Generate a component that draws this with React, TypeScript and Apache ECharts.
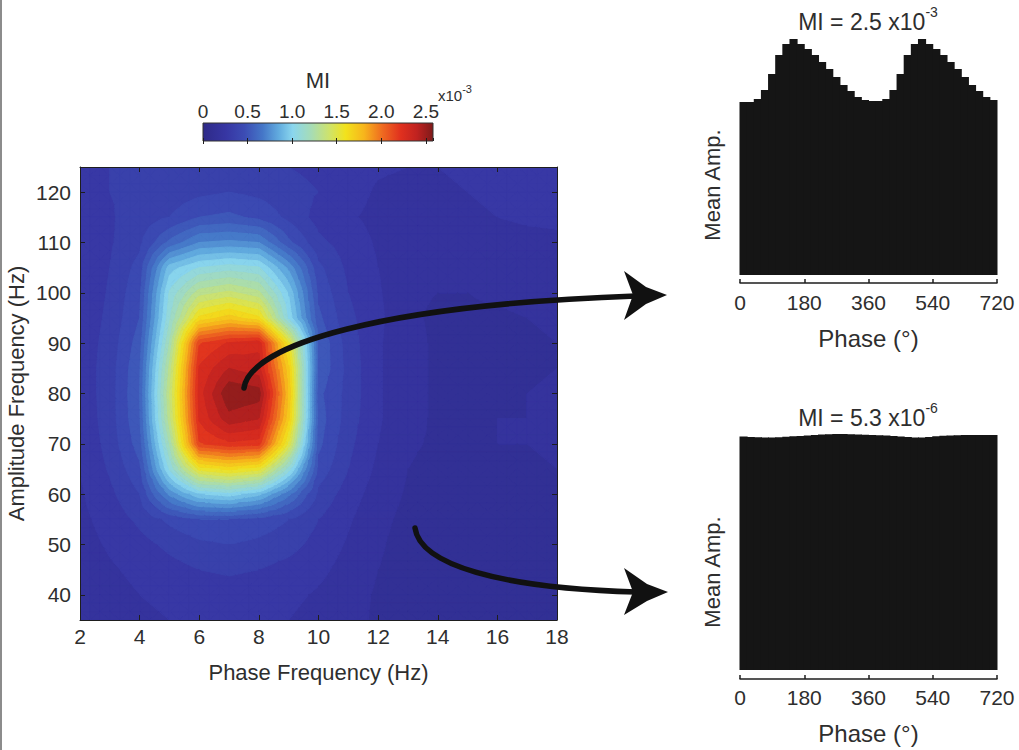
import React, { useEffect, useRef } from "react";
import * as echarts from "echarts";

const FONT = "'Liberation Sans', Arial, Helvetica, sans-serif";
const TEXT = "#2e2e2e";
const AXIS = "#1e1e1e";

// ---------- comodulogram (MI x10^-3) ----------
const phaseFreqs = [2, 3, 4, 5, 6, 7, 8, 9, 10, 11, 12, 13, 14, 15, 16, 17, 18];
const ampFreqs = [125, 120, 115, 110, 105, 100, 95, 90, 85, 80, 75, 70, 65, 60, 55, 50, 45, 40, 35];
const miGrid = [
  [0.30, 0.32, 0.33, 0.34, 0.35, 0.35, 0.34, 0.32, 0.30, 0.27, 0.25, 0.24, 0.24, 0.26, 0.28, 0.29, 0.28],
  [0.28, 0.32, 0.34, 0.35, 0.38, 0.40, 0.38, 0.35, 0.32, 0.27, 0.23, 0.22, 0.22, 0.24, 0.26, 0.27, 0.26],
  [0.26, 0.31, 0.36, 0.40, 0.48, 0.50, 0.46, 0.38, 0.29, 0.25, 0.22, 0.20, 0.20, 0.22, 0.24, 0.25, 0.25],
  [0.25, 0.31, 0.38, 0.58, 0.72, 0.74, 0.72, 0.50, 0.34, 0.28, 0.23, 0.19, 0.18, 0.20, 0.21, 0.22, 0.23],
  [0.25, 0.32, 0.43, 0.92, 1.04, 1.08, 1.05, 0.78, 0.42, 0.30, 0.24, 0.18, 0.17, 0.18, 0.19, 0.20, 0.21],
  [0.25, 0.33, 0.46, 1.05, 1.32, 1.38, 1.30, 0.95, 0.46, 0.32, 0.25, 0.17, 0.16, 0.16, 0.17, 0.18, 0.19],
  [0.26, 0.34, 0.48, 1.10, 1.62, 1.72, 1.62, 1.02, 0.50, 0.34, 0.26, 0.17, 0.15, 0.15, 0.15, 0.16, 0.17],
  [0.27, 0.35, 0.52, 1.20, 2.15, 2.25, 2.30, 1.55, 0.55, 0.36, 0.25, 0.18, 0.15, 0.14, 0.14, 0.15, 0.16],
  [0.27, 0.36, 0.55, 1.30, 2.25, 2.40, 2.35, 1.70, 0.55, 0.37, 0.25, 0.18, 0.15, 0.14, 0.14, 0.15, 0.16],
  [0.27, 0.36, 0.56, 1.35, 2.28, 2.55, 2.52, 1.75, 0.50, 0.37, 0.25, 0.18, 0.15, 0.14, 0.15, 0.16, 0.17],
  [0.26, 0.36, 0.55, 1.32, 2.25, 2.45, 2.40, 1.70, 0.52, 0.36, 0.25, 0.18, 0.15, 0.15, 0.16, 0.16, 0.17],
  [0.25, 0.35, 0.52, 1.20, 2.15, 2.22, 2.20, 1.50, 0.50, 0.34, 0.24, 0.17, 0.15, 0.15, 0.16, 0.16, 0.17],
  [0.24, 0.33, 0.46, 1.05, 1.55, 1.62, 1.55, 1.08, 0.45, 0.32, 0.22, 0.16, 0.14, 0.14, 0.15, 0.15, 0.16],
  [0.23, 0.30, 0.40, 0.74, 0.95, 1.00, 0.90, 0.66, 0.38, 0.28, 0.20, 0.15, 0.13, 0.13, 0.14, 0.15, 0.15],
  [0.22, 0.27, 0.34, 0.42, 0.48, 0.48, 0.45, 0.40, 0.32, 0.25, 0.18, 0.14, 0.12, 0.12, 0.13, 0.14, 0.14],
  [0.21, 0.25, 0.29, 0.34, 0.38, 0.40, 0.38, 0.35, 0.29, 0.23, 0.17, 0.13, 0.11, 0.11, 0.12, 0.13, 0.14],
  [0.20, 0.23, 0.26, 0.29, 0.32, 0.33, 0.32, 0.29, 0.26, 0.21, 0.16, 0.13, 0.11, 0.11, 0.12, 0.13, 0.14],
  [0.18, 0.21, 0.24, 0.26, 0.28, 0.29, 0.28, 0.26, 0.23, 0.19, 0.15, 0.13, 0.12, 0.12, 0.13, 0.14, 0.15],
  [0.16, 0.19, 0.22, 0.24, 0.25, 0.26, 0.25, 0.24, 0.21, 0.18, 0.15, 0.13, 0.12, 0.12, 0.13, 0.14, 0.15],
];
const ampTicks = [40, 50, 60, 70, 80, 90, 100, 110, 120];
const colorbarMax = 2.58;
const contourStep = 0.08;

// ---------- phase-amplitude histograms (20° bins, two cycles) ----------
const phaseBins = [10, 30, 50, 70, 90, 110, 130, 150, 170, 190, 210, 230, 250, 270, 290, 310, 330, 350,
  370, 390, 410, 430, 450, 470, 490, 510, 530, 550, 570, 590, 610, 630, 650, 670, 690, 710];
const topMeanAmp = [173, 173, 176, 185, 201, 220, 231, 236, 231, 226, 220, 213, 206, 198, 190, 184, 178, 175,
  174, 174, 176, 185, 201, 220, 231, 236, 231, 226, 220, 213, 206, 198, 190, 184, 178, 175];
const bottomMeanAmp = [233.5, 233, 232.7, 232.4, 232.4, 232.8, 233.2, 233.7, 234, 234.5, 235, 235.4, 235.7, 236, 236, 235.8, 235.5, 235.2,
  235, 234.8, 234.4, 234, 233.5, 233, 232.4, 232.4, 233, 233.8, 234.3, 234.5, 234.8, 235, 235, 235, 235, 235];

// jet-like colormap as it appears in the figure
const jetStops: [number, string][] = [
  [0, "#2e2a88"],
  [0.1, "#3736a3"],
  [0.18, "#3c4cb4"],
  [0.26, "#4577c8"],
  [0.33, "#62acdf"],
  [0.39, "#8ad6ee"],
  [0.47, "#a6dcb6"],
  [0.55, "#cfe36a"],
  [0.62, "#f2e21c"],
  [0.7, "#f7b51c"],
  [0.78, "#ef6a20"],
  [0.86, "#e0301e"],
  [0.93, "#c02220"],
  [1, "#7e1a1a"],
];

function hexToRgb(h: string): number[] {
  const n = parseInt(h.slice(1), 16);
  return [(n >> 16) & 255, (n >> 8) & 255, n & 255];
}
const stopRgb = jetStops.map(([p, c]) => [p, hexToRgb(c)] as [number, number[]]);
function colorAt(v: number): string {
  const f = Math.max(0, Math.min(1, v / colorbarMax));
  for (let k = 1; k < stopRgb.length; k++) {
    if (f <= stopRgb[k][0] || k === stopRgb.length - 1) {
      const [p0, c0] = stopRgb[k - 1];
      const [p1, c1] = stopRgb[k];
      const t = (f - p0) / (p1 - p0);
      const c = c0.map((x, i) => Math.round(x + t * (c1[i] - x)));
      return `rgb(${c[0]},${c[1]},${c[2]})`;
    }
  }
  return jetStops[jetStops.length - 1][1];
}

type P3 = [number, number, number];
function clipPoly(poly: P3[], level: number, keepAbove: boolean): P3[] {
  const out: P3[] = [];
  for (let k = 0; k < poly.length; k++) {
    const a = poly[k];
    const b = poly[(k + 1) % poly.length];
    const ina = keepAbove ? a[2] >= level : a[2] <= level;
    const inb = keepAbove ? b[2] >= level : b[2] <= level;
    if (ina) out.push(a);
    if (ina !== inb) {
      const t = (level - a[2]) / (b[2] - a[2]);
      out.push([a[0] + t * (b[0] - a[0]), a[1] + t * (b[1] - a[1]), level]);
    }
  }
  return out;
}

const nRows = ampFreqs.length;
const nCols = phaseFreqs.length;
const gridPoints: number[][] = [];
for (let r = 0; r < nRows; r++) {
  for (let c = 0; c < nCols; c++) gridPoints.push([phaseFreqs[c], ampFreqs[r], miGrid[r][c]]);
}

const SUB = 3; // sub-division of each grid cell for smoother filled contours

function renderContourCell(params: any, api: any) {
  const idx = params.dataIndex;
  const r = Math.floor(idx / nCols);
  const c = idx % nCols;
  if (r >= nRows - 1 || c >= nCols - 1) return null;
  const p00 = api.coord([phaseFreqs[c], ampFreqs[r]]);
  const p11 = api.coord([phaseFreqs[c + 1], ampFreqs[r + 1]]);
  const a = miGrid[r][c];
  const b = miGrid[r][c + 1];
  const cc = miGrid[r + 1][c + 1];
  const d = miGrid[r + 1][c];
  const pt = (u: number, v: number): P3 => [
    p00[0] + u * (p11[0] - p00[0]),
    p00[1] + v * (p11[1] - p00[1]),
    (1 - u) * (1 - v) * a + u * (1 - v) * b + u * v * cc + (1 - u) * v * d,
  ];
  const children: any[] = [];
  for (let i = 0; i < SUB; i++) {
    for (let j = 0; j < SUB; j++) {
      const u0 = i / SUB, u1 = (i + 1) / SUB, v0 = j / SUB, v1 = (j + 1) / SUB;
      const q00 = pt(u0, v0), q10 = pt(u1, v0), q11 = pt(u1, v1), q01 = pt(u0, v1);
      const tris: P3[][] = (i + j) % 2 === 0
        ? [[q00, q10, q11], [q00, q11, q01]]
        : [[q00, q10, q01], [q10, q11, q01]];
      for (const tri of tris) {
        const vmin = Math.min(tri[0][2], tri[1][2], tri[2][2]);
        const vmax = Math.max(tri[0][2], tri[1][2], tri[2][2]);
        const k0 = Math.floor(vmin / contourStep);
        const k1 = Math.floor(vmax / contourStep);
        for (let k = k0; k <= k1; k++) {
          const lo = k * contourStep;
          const hi = (k + 1) * contourStep;
          const poly = k0 === k1 ? tri : clipPoly(clipPoly(tri, lo, true), hi, false);
          if (poly.length < 3) continue;
          const col = colorAt(lo + contourStep / 2);
          children.push({
            type: "polygon",
            shape: { points: poly.map((p) => [p[0], p[1]]) },
            style: { fill: col, stroke: col, lineWidth: 1 },
          });
        }
      }
    }
  }
  return { type: "group", children };
}

function renderColorbar(params: any, api: any) {
  const p0 = api.coord([api.value(0), 0]);
  const p1 = api.coord([api.value(1), 1]);
  return {
    type: "rect",
    shape: { x: p0[0], y: p1[1], width: p1[0] - p0[0], height: p0[1] - p1[1] },
    style: {
      fill: new echarts.graphic.LinearGradient(0, 0, 1, 0, jetStops.map(([p, c]) => ({ offset: p, color: c }))),
      stroke: "#333",
      lineWidth: 1,
    },
  };
}

const binHalf = (phaseBins[1] - phaseBins[0]) / 2;
function renderHistBar(params: any, api: any) {
  const x = api.value(0);
  const y = api.value(1);
  const p0 = api.coord([x - binHalf, 0]);
  const p1 = api.coord([x + binHalf, y]);
  return {
    type: "rect",
    shape: { x: p0[0] - 0.5, y: p1[1], width: p1[0] - p0[0] + 1, height: p0[1] - p1[1] },
    style: { fill: "#151515" },
  };
}

const tickLabel = { color: TEXT, fontFamily: FONT, fontSize: 21 };

export default function App() {
  const ref = useRef<HTMLDivElement>(null);
  useEffect(() => {
    if (!ref.current) return;
    const chart = echarts.init(ref.current, undefined, { renderer: "svg" });
    const option: any = {
      animation: false,
      backgroundColor: "#ffffff",
      textStyle: { fontFamily: FONT },
      grid: [
        { left: 80, top: 167, width: 477, height: 453, show: true, backgroundColor: "#3433a0", borderWidth: 0 },
        { left: 203, top: 123, width: 230, height: 18 },
        { left: 740, top: 35, width: 257, height: 240 },
        { left: 740, top: 430, width: 257, height: 240 },
      ],
      xAxis: [
        {
          gridIndex: 0, type: "value", position: "bottom", min: 2, max: 18, interval: 2, z: 10,
          axisLine: { show: true, onZero: false, lineStyle: { color: AXIS, width: 1 } },
          axisTick: { show: true, inside: true, length: 5, lineStyle: { color: AXIS } },
          axisLabel: { ...tickLabel, margin: 6 },
          splitLine: { show: false },
          name: "Phase Frequency (Hz)", nameLocation: "middle", nameGap: 41,
          nameTextStyle: { color: TEXT, fontFamily: FONT, fontSize: 22 },
        },
        {
          gridIndex: 0, type: "value", position: "top", min: 2, max: 18, interval: 2, z: 10,
          axisLine: { show: true, onZero: false, lineStyle: { color: AXIS, width: 1 } },
          axisTick: { show: true, inside: true, length: 5, lineStyle: { color: AXIS } },
          axisLabel: { show: false },
          splitLine: { show: false },
        },
        {
          gridIndex: 1, type: "value", position: "top", min: 0, max: colorbarMax, interval: 0.5, z: 10,
          axisLine: { show: false },
          axisTick: { show: true, inside: true, length: 3, lineStyle: { color: AXIS } },
          axisLabel: {
            color: TEXT, fontFamily: FONT, fontSize: 19, margin: 2, showMaxLabel: false,
            formatter: (v: number) => (v === 0 ? "0" : v.toFixed(1)),
          },
          splitLine: { show: false },
        },
        {
          gridIndex: 1, type: "value", position: "bottom", min: 0, max: colorbarMax, interval: 0.5, z: 10,
          axisLine: { show: false },
          axisTick: { show: true, inside: true, length: 3, lineStyle: { color: AXIS } },
          axisLabel: { show: false },
          splitLine: { show: false },
        },
        {
          gridIndex: 2, type: "value", position: "bottom", min: 0, max: 720, interval: 180, offset: 8,
          axisLine: { show: true, onZero: false, lineStyle: { color: AXIS, width: 1.5 } },
          axisTick: { show: true, inside: true, length: 4, lineStyle: { color: AXIS, width: 1.5 } },
          axisLabel: { ...tickLabel, margin: 9 },
          splitLine: { show: false },
          name: "Phase (°)", nameLocation: "middle", nameGap: 43,
          nameTextStyle: { color: TEXT, fontFamily: FONT, fontSize: 24 },
        },
        {
          gridIndex: 3, type: "value", position: "bottom", min: 0, max: 720, interval: 180, offset: 9,
          axisLine: { show: true, onZero: false, lineStyle: { color: AXIS, width: 1.5 } },
          axisTick: { show: true, inside: true, length: 4, lineStyle: { color: AXIS, width: 1.5 } },
          axisLabel: { ...tickLabel, margin: 8 },
          splitLine: { show: false },
          name: "Phase (°)", nameLocation: "middle", nameGap: 42,
          nameTextStyle: { color: TEXT, fontFamily: FONT, fontSize: 24 },
        },
      ],
      yAxis: [
        {
          gridIndex: 0, type: "value", position: "left", min: 35, max: 125, z: 10,
          axisLine: { show: true, onZero: false, lineStyle: { color: AXIS, width: 1 } },
          axisTick: { show: true, inside: true, length: 5, customValues: ampTicks, lineStyle: { color: AXIS } },
          axisLabel: { ...tickLabel, margin: 9, customValues: ampTicks },
          splitLine: { show: false },
          name: "Amplitude Frequency (Hz)", nameLocation: "middle", nameGap: 53,
          nameTextStyle: { color: TEXT, fontFamily: FONT, fontSize: 22 },
        },
        {
          gridIndex: 0, type: "value", position: "right", min: 35, max: 125, z: 10,
          axisLine: { show: true, onZero: false, lineStyle: { color: AXIS, width: 1 } },
          axisTick: { show: true, inside: true, length: 5, customValues: ampTicks, lineStyle: { color: AXIS } },
          axisLabel: { show: false, customValues: ampTicks },
          splitLine: { show: false },
        },
        { gridIndex: 1, type: "value", min: 0, max: 1, show: false },
        { gridIndex: 2, type: "value", min: 0, max: 240, show: false },
        { gridIndex: 3, type: "value", min: 0, max: 240, show: false },
      ],
      series: [
        {
          type: "custom",
          xAxisIndex: 0,
          yAxisIndex: 0,
          data: gridPoints,
          encode: { x: 0, y: 1 },
          renderItem: renderContourCell,
          clip: true,
          z: 1,
          silent: true,
        },
        {
          type: "custom",
          xAxisIndex: 2,
          yAxisIndex: 2,
          data: [[0, colorbarMax]],
          encode: { x: [0, 1] },
          renderItem: renderColorbar,
          z: 1,
          silent: true,
        },
        {
          type: "custom",
          xAxisIndex: 4,
          yAxisIndex: 3,
          data: phaseBins.map((p, i) => [p, topMeanAmp[i]]),
          encode: { x: 0, y: 1 },
          renderItem: renderHistBar,
          silent: true,
        },
        {
          type: "custom",
          xAxisIndex: 5,
          yAxisIndex: 4,
          data: phaseBins.map((p, i) => [p, bottomMeanAmp[i]]),
          encode: { x: 0, y: 1 },
          renderItem: renderHistBar,
          silent: true,
        },
      ],
      graphic: [
        { type: "rect", left: 0, top: 0, shape: { x: 0, y: 0, width: 2, height: 750 }, style: { fill: "#8c8c8c" }, z: 100 },
        {
          type: "text", x: 318, y: 80, z: 100,
          style: { text: "MI", fill: TEXT, fontFamily: FONT, fontSize: 22, align: "center", verticalAlign: "middle" },
        },
        {
          type: "text", x: 438, y: 93, z: 100,
          style: {
            text: "{a|x10}{b|-3}", align: "left", verticalAlign: "middle", fill: TEXT, fontFamily: FONT,
            rich: {
              a: { fontSize: 15, fontFamily: FONT, fill: TEXT, lineHeight: 20, verticalAlign: "bottom" },
              b: { fontSize: 11, fontFamily: FONT, fill: TEXT, lineHeight: 20, verticalAlign: "top" },
            },
          },
        },
        {
          type: "text", x: 868, y: 19, z: 100,
          style: {
            text: "{a|MI = 2.5 x10}{b|-3}", align: "center", verticalAlign: "middle", fill: TEXT, fontFamily: FONT,
            rich: {
              a: { fontSize: 23, fontFamily: FONT, fill: TEXT, lineHeight: 28, verticalAlign: "bottom" },
              b: { fontSize: 14, fontFamily: FONT, fill: TEXT, lineHeight: 28, verticalAlign: "top" },
            },
          },
        },
        {
          type: "text", x: 868, y: 415, z: 100,
          style: {
            text: "{a|MI = 5.3 x10}{b|-6}", align: "center", verticalAlign: "middle", fill: TEXT, fontFamily: FONT,
            rich: {
              a: { fontSize: 23, fontFamily: FONT, fill: TEXT, lineHeight: 28, verticalAlign: "bottom" },
              b: { fontSize: 14, fontFamily: FONT, fill: TEXT, lineHeight: 28, verticalAlign: "top" },
            },
          },
        },
        {
          type: "text", x: 712, y: 185, rotation: Math.PI / 2, z: 100,
          style: { text: "Mean Amp.", fill: TEXT, fontFamily: FONT, fontSize: 22, align: "center", verticalAlign: "middle" },
        },
        {
          type: "text", x: 712, y: 572, rotation: Math.PI / 2, z: 100,
          style: { text: "Mean Amp.", fill: TEXT, fontFamily: FONT, fontSize: 22, align: "center", verticalAlign: "middle" },
        },
        {
          type: "bezierCurve", z: 100,
          shape: { x1: 244, y1: 388, cpx1: 250, cpy1: 345, cpx2: 380, cpy2: 305, x2: 636, y2: 296 },
          style: { stroke: "#111", lineWidth: 5.5, fill: "none", lineCap: "round" },
        },
        {
          type: "polygon", z: 100,
          shape: { points: [[667, 295], [646, 287], [624, 271], [633, 295], [624, 320], [646, 304]] },
          style: { fill: "#111" },
        },
        {
          type: "bezierCurve", z: 100,
          shape: { x1: 415, y1: 528, cpx1: 420, cpy1: 565, cpx2: 500, cpy2: 588, x2: 636, y2: 592 },
          style: { stroke: "#111", lineWidth: 5.5, fill: "none", lineCap: "round" },
        },
        {
          type: "polygon", z: 100,
          shape: { points: [[668, 592], [647, 584], [624, 568], [633, 592], [624, 615], [647, 601]] },
          style: { fill: "#111" },
        },
      ],
    };
    chart.setOption(option);
    return () => chart.dispose();
  }, []);
  return (
    <div
      ref={ref}
      style={{ position: "fixed", left: 0, top: 0, width: 1019, height: 750, background: "#fff" }}
    />
  );
}
